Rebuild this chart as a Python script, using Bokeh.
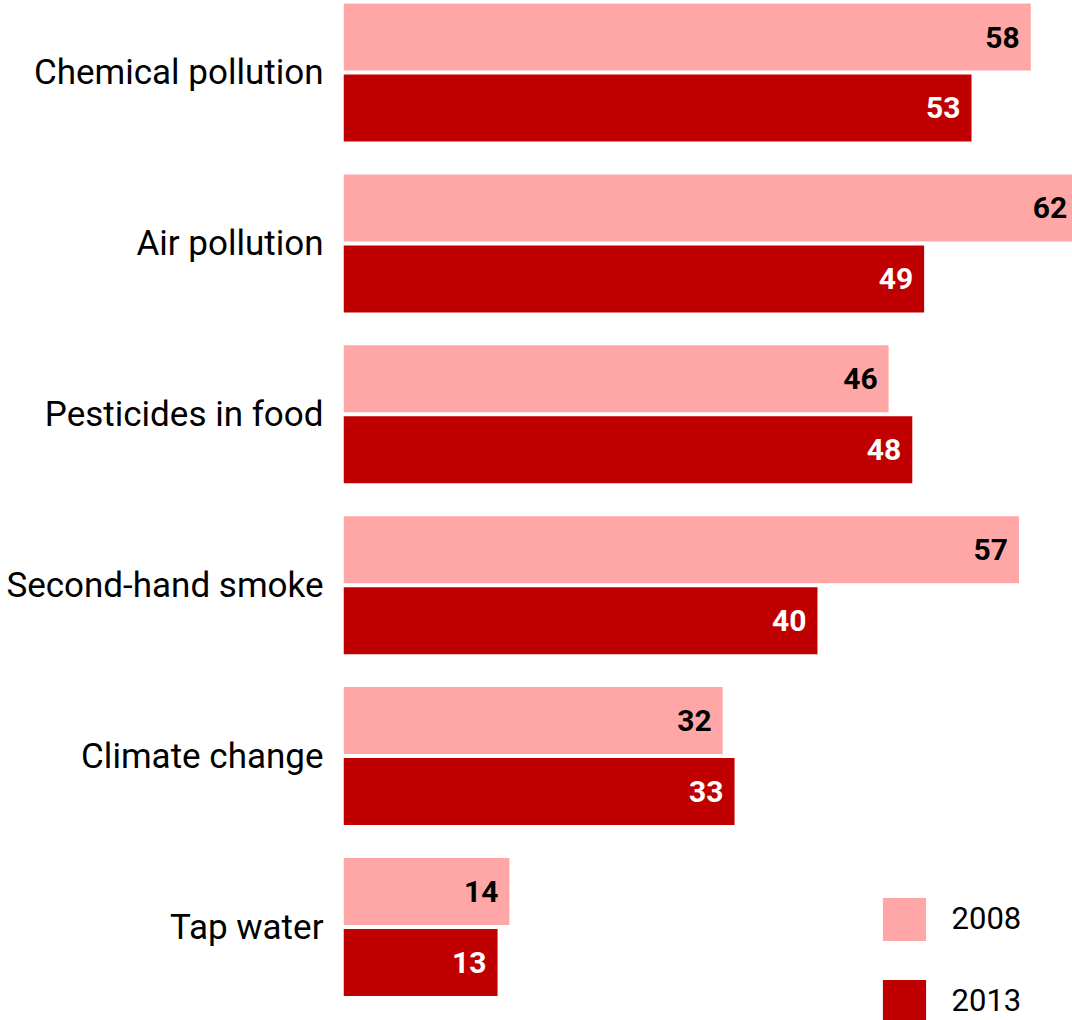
from bokeh.plotting import figure
from bokeh.models import Range1d, FixedTicker, Legend, LegendItem, ColumnDataSource
from bokeh.core.properties import value
from bokeh.embed import file_html
from bokeh.resources import INLINE

categories = ["Chemical pollution", "Air pollution", "Pesticides in food",
              "Second-hand smoke", "Climate change", "Tap water"]
values_2008 = [58, 62, 46, 57, 32, 14]
values_2013 = [53, 49, 48, 40, 33, 13]
series_names = ["2008", "2013"]
colors = ["#FFA7A7", "#C00000"]
label_colors = ["black", "white"]

FONT = "Roboto"

idx = list(range(len(categories)))
off = 0.2077
bar_h = 0.392

p = figure(width=1072, height=1020, output_backend="svg", toolbar_location=None,
           title=None,
           x_range=Range1d(0, 61.52), y_range=Range1d(5.547, -0.4213),
           min_border_left=343, min_border_right=0, min_border_top=0, min_border_bottom=0,
           styles={"position": "absolute", "top": "0px", "left": "0px"})
p.outline_line_color = None
p.xgrid.visible = False
p.ygrid.visible = False
p.xaxis.visible = False
p.background_fill_color = "white"
p.border_fill_color = "white"

renderers = []
for k, vals in enumerate([values_2008, values_2013]):
    ys = [i + (off if k == 1 else -off) for i in idx]
    src = ColumnDataSource(dict(y=ys, right=vals, lab=[str(v) for v in vals]))
    r = p.hbar(y="y", right="right", left=0, height=bar_h, source=src,
               fill_color=colors[k], line_color=None)
    renderers.append(r)
    p.text(x="right", y="y", text="lab", source=src, x_offset=-11,
           text_align="right", text_baseline="middle",
           text_font=value(FONT), text_font_style="bold", text_font_size="30px",
           text_color=label_colors[k])

yax = p.yaxis[0]
yax.ticker = FixedTicker(ticks=idx)
yax.major_label_overrides = {i: c for i, c in zip(idx, categories)}
yax.axis_line_color = None
yax.major_tick_line_color = None
yax.minor_tick_line_color = None
yax.major_tick_out = 0
yax.major_tick_in = 0
yax.minor_tick_out = 0
yax.minor_tick_in = 0
yax.major_label_standoff = 20
yax.major_label_text_font = FONT
yax.major_label_text_font_size = "35px"
yax.major_label_text_color = "black"

legend = Legend(items=[LegendItem(label=series_names[k], renderers=[renderers[k]]) for k in range(2)],
                location=(533.6, -7.6), glyph_width=54, glyph_height=54,
                spacing=28, label_standoff=21, padding=0, margin=0,
                label_text_font=FONT, label_text_font_size="31px",
                label_text_color="black",
                border_line_color=None, background_fill_alpha=0)
p.add_layout(legend, "center")

open("out.html", "w").write(file_html(p, INLINE))
